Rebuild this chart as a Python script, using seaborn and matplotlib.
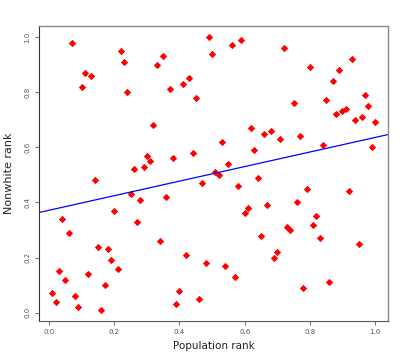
import numpy as np
import pandas as pd
import seaborn as sns
import matplotlib
matplotlib.use("Agg")
import matplotlib.pyplot as plt

# data (ranks)
population_rank = [
    0.07, 0.22, 0.23, 0.33, 0.11, 0.13, 0.10, 0.24, 0.32, 0.49,
    0.59, 0.56, 0.50, 0.35, 0.43, 0.41, 0.37, 0.45, 0.72, 0.93,
    0.80, 0.89, 0.87, 0.97, 0.75, 0.85, 0.98, 0.91, 0.90, 0.88,
    0.96, 0.94, 1.00, 0.30, 0.31, 0.26, 0.29, 0.14, 0.25, 0.28,
    0.20, 0.04, 0.62, 0.66, 0.68, 0.53, 0.63, 0.44, 0.38, 0.55,
    0.51, 0.52, 0.47, 0.64, 0.58, 0.36, 0.61, 0.67, 0.60, 0.71,
    0.77, 0.84, 0.99, 0.79, 0.92, 0.76, 0.82, 0.81, 0.73, 0.74,
    0.83, 0.65, 0.95, 0.70, 0.69, 0.48, 0.54, 0.57, 0.86, 0.78,
    0.27, 0.34, 0.06, 0.15, 0.18, 0.19, 0.21, 0.03, 0.05, 0.12,
    0.17, 0.01, 0.08, 0.02, 0.09, 0.16, 0.42, 0.40, 0.46, 0.39,
]
nonwhite_rank = [
    0.98, 0.95, 0.91, 0.90, 0.87, 0.86, 0.82, 0.80, 0.68, 1.00,
    0.99, 0.97, 0.94, 0.93, 0.85, 0.83, 0.81, 0.78, 0.96, 0.92,
    0.89, 0.88, 0.84, 0.79, 0.76, 0.77, 0.75, 0.74, 0.73, 0.72,
    0.71, 0.70, 0.69, 0.57, 0.55, 0.52, 0.53, 0.48, 0.43, 0.41,
    0.37, 0.34, 0.67, 0.65, 0.66, 0.62, 0.59, 0.58, 0.56, 0.54,
    0.51, 0.50, 0.47, 0.49, 0.46, 0.42, 0.38, 0.39, 0.36, 0.63,
    0.64, 0.61, 0.60, 0.45, 0.44, 0.40, 0.35, 0.32, 0.31, 0.30,
    0.27, 0.28, 0.25, 0.22, 0.20, 0.18, 0.17, 0.13, 0.11, 0.09,
    0.33, 0.26, 0.29, 0.24, 0.23, 0.19, 0.16, 0.15, 0.12, 0.14,
    0.10, 0.07, 0.06, 0.04, 0.02, 0.01, 0.21, 0.08, 0.05, 0.03,
]
tick_values = [0.0, 0.2, 0.4, 0.6, 0.8, 1.0]

df = pd.DataFrame({"pop": population_rank, "nonwhite": nonwhite_rank})

sns.set_style("white")

fig = plt.figure(figsize=(4.09, 3.54), dpi=100)
ax = fig.add_axes([0.0954, 0.0932, 0.8533, 0.8334])
ax.set_xlim(-0.031, 1.04)
ax.set_ylim(-0.03, 1.04)

sns.regplot(data=df, x="pop", y="nonwhite", ax=ax, ci=None, truncate=False,
            marker="D",
            scatter_kws={"color": "#ff0000", "s": 14, "linewidths": 0, "alpha": 1},
            line_kws={"color": "#0000ff", "linewidth": 0.9})

ax.set_xlim(-0.031, 1.04)
ax.set_ylim(-0.03, 1.04)
ax.set_xticks(tick_values)
ax.set_yticks(tick_values)
ax.set_xticklabels([f"{v:.1f}" for v in tick_values])
ax.set_yticklabels([f"{v:.1f}" for v in tick_values], rotation=90, va="center")
ax.tick_params(axis="both", labelsize=5, colors="#555555", length=3, width=0.6,
               direction="out", bottom=True, left=True, pad=3)

for side in ["top", "right"]:
    ax.spines[side].set_color("#888888")
    ax.spines[side].set_linewidth(1.0)
ax.spines["left"].set_color("#333333")
ax.spines["bottom"].set_color("#555555")
ax.spines["left"].set_linewidth(0.8)
ax.spines["bottom"].set_linewidth(0.8)

ax.set_xlabel("Population rank", fontsize=7.5, color="#222222", labelpad=4,
              family="DejaVu Sans")
ax.set_ylabel("Nonwhite rank", fontsize=8, color="#222222", labelpad=8,
              family="Liberation Sans Narrow")

fig.savefig("out.png", dpi=100)
